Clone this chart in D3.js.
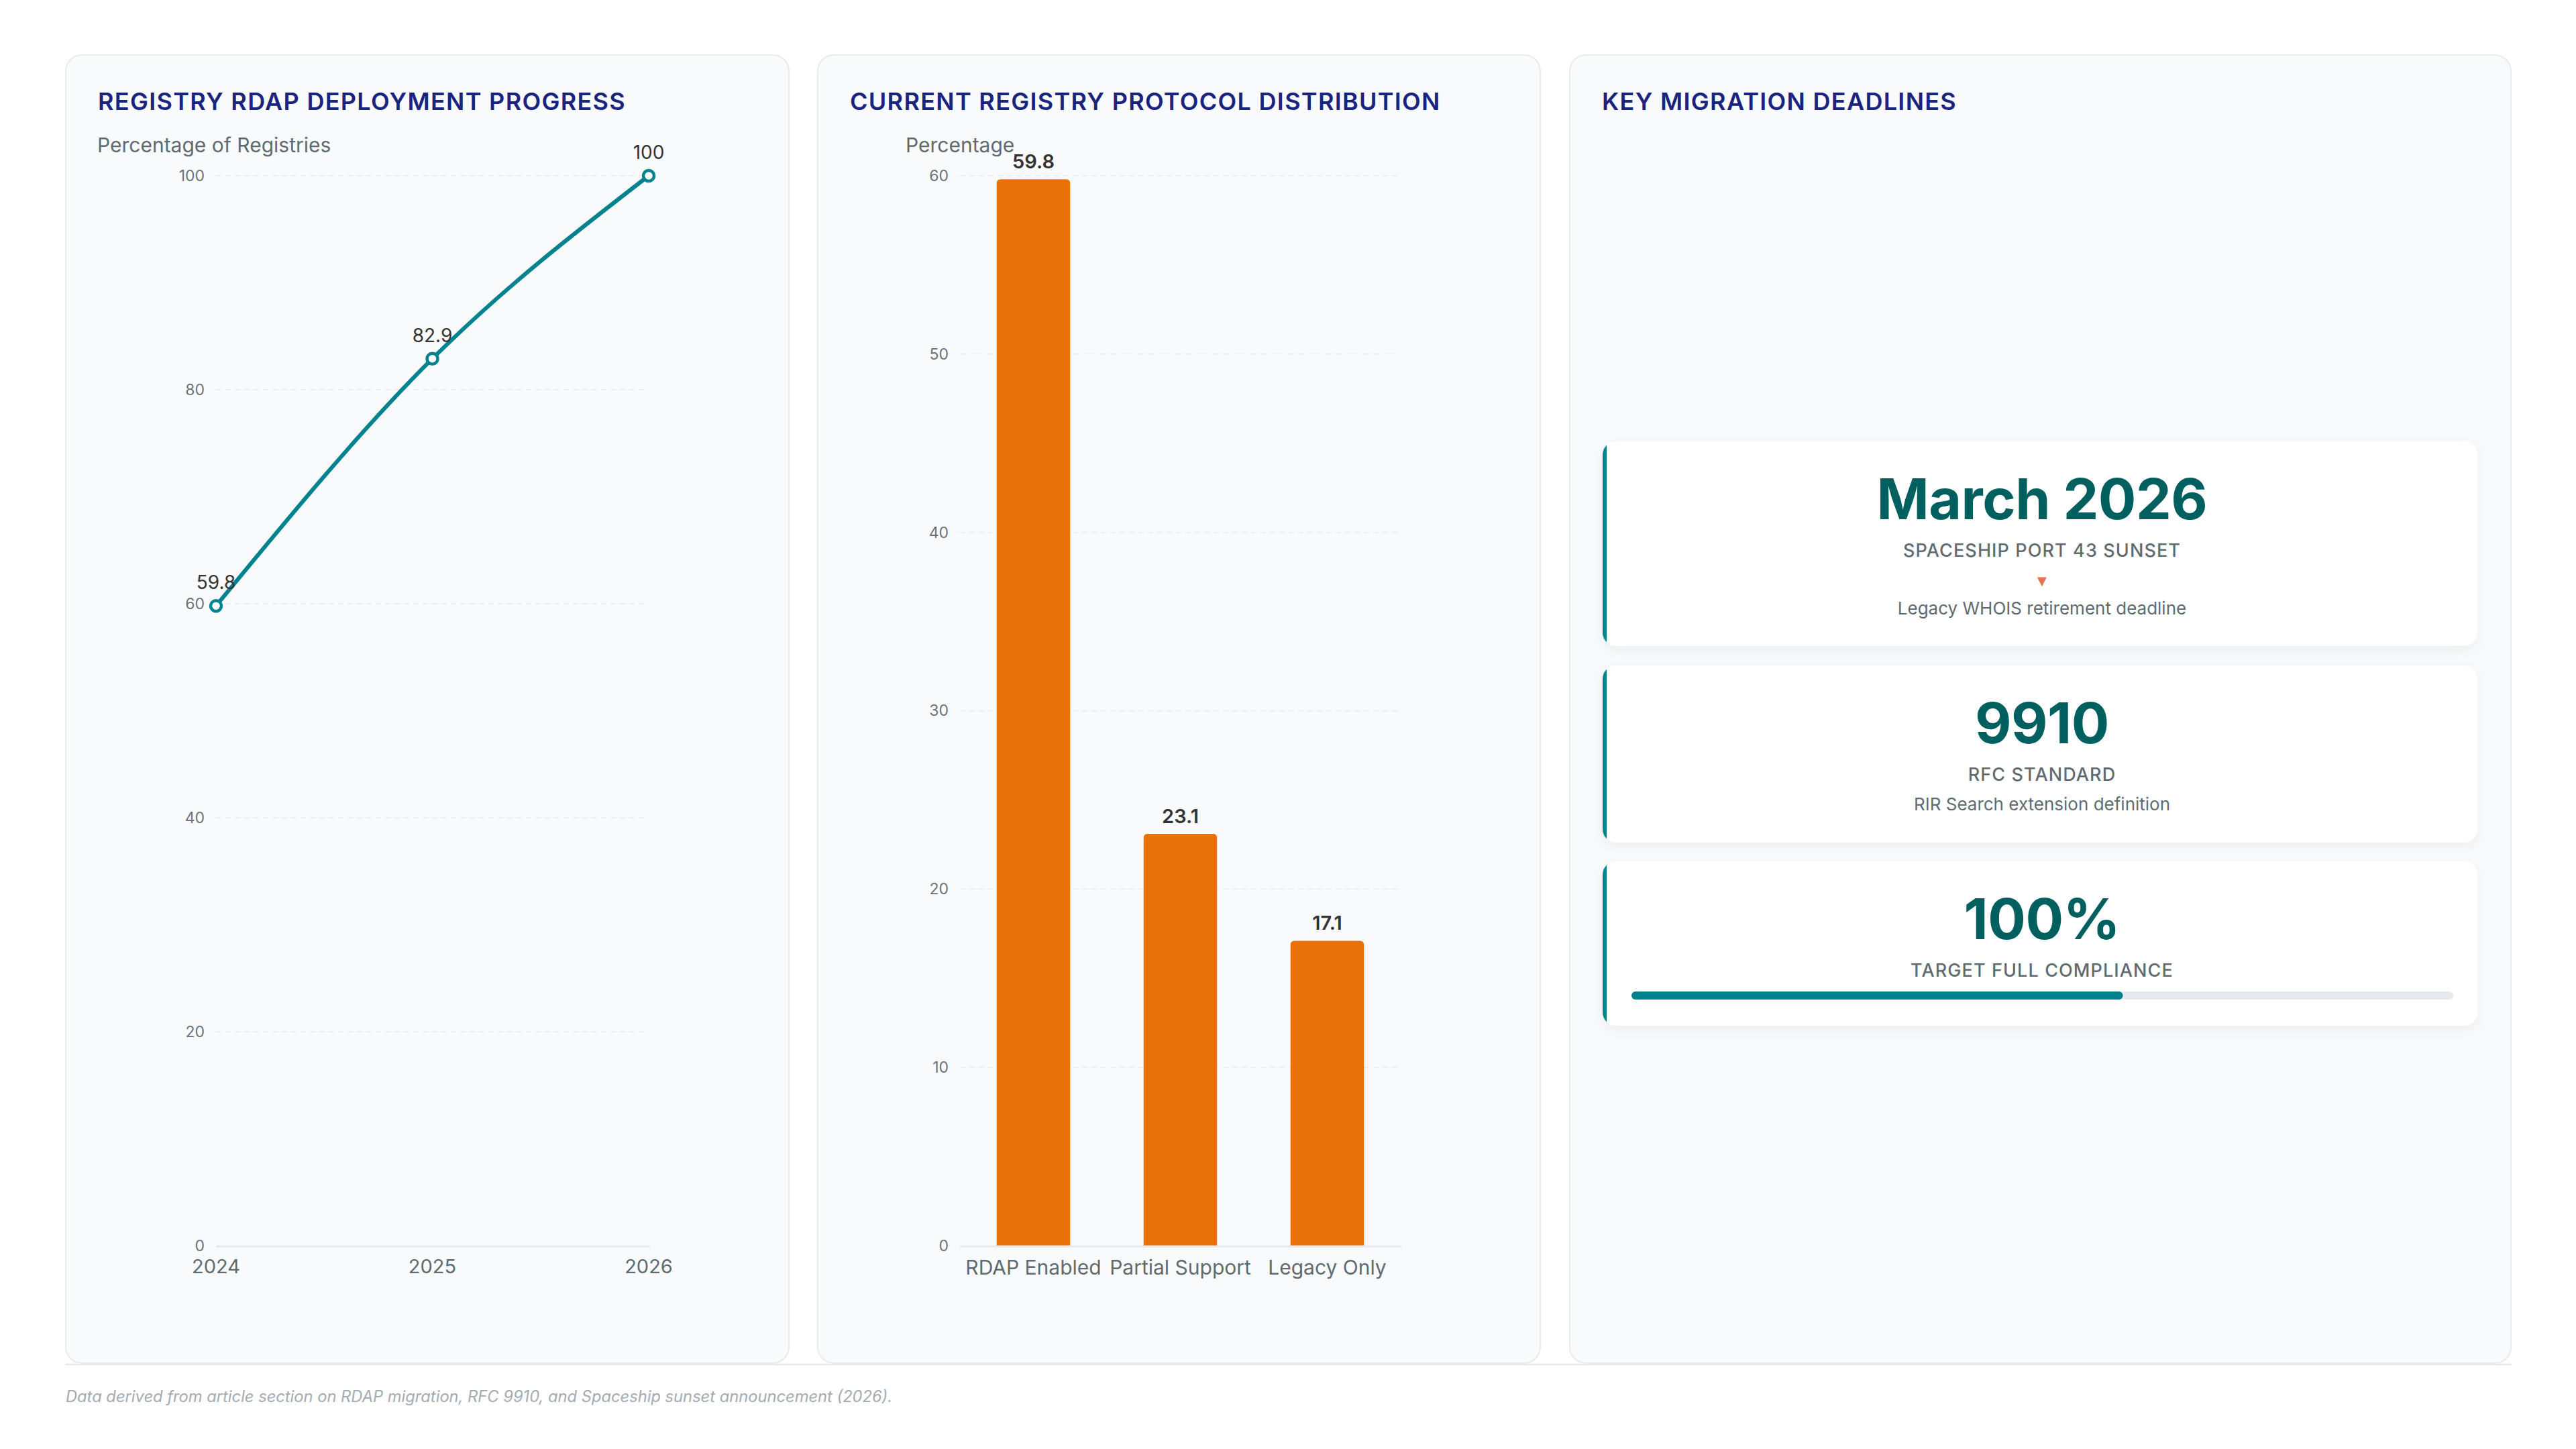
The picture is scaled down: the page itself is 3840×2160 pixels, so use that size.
<!DOCTYPE html>
<html>
<head>
<meta charset="utf-8">
<script src="https://cdn.jsdelivr.net/npm/d3@7"></script>
<style>
  html, body { margin: 0; padding: 0; background: #ffffff; }
  svg { display: block; font-family: Inter, "Noto Sans", sans-serif; }
</style>
</head>
<body>
<svg id="root" width="3840" height="2160"></svg>
<script>
// ---------------- DATA ----------------
const years = ["2024", "2025", "2026"];
const deploymentPct = [59.8, 82.9, 100];
const lineTicks = [0, 20, 40, 60, 80, 100];

const protocolCategories = ["RDAP Enabled", "Partial Support", "Legacy Only"];
const protocolPct = [59.8, 23.1, 17.1];
const barTicks = [0, 10, 20, 30, 40, 50, 60];

const panelTitles = ["REGISTRY RDAP DEPLOYMENT PROGRESS", "CURRENT REGISTRY PROTOCOL DISTRIBUTION", "KEY MIGRATION DEADLINES"];
const lineAxisTitle = "Percentage of Registries";
const barAxisTitle = "Percentage";

const cardValues = ["March 2026", "9910", "100%"];
const cardLabels = ["SPACESHIP PORT 43 SUNSET", "RFC STANDARD", "TARGET FULL COMPLIANCE"];
const cardNotes = ["Legacy WHOIS retirement deadline", "RIR Search extension definition", ""];
const complianceProgress = 59.8;

const footnote = "Data derived from article section on RDAP migration, RFC 9910, and Spaceship sunset announcement (2026).";

// ---------------- LAYOUT ----------------
const svg = d3.select("#root");
const C = {
  navy: "#1a237e", teal: "#00838f", darkTeal: "#00605f", orange: "#e8710a",
  gray: "#5f6b70", tick: "#6b7378", label: "#333333", grid: "#eceef1", axis: "#e6e8eb",
  panelBg: "#f8fafc", panelBorder: "#e8ebee", coral: "#e4704f", foot: "#a4abb2"
};

const defs = svg.append("defs");
const f = defs.append("filter").attr("id", "shadow").attr("x", "-10%").attr("y", "-20%").attr("width", "120%").attr("height", "150%");
f.append("feDropShadow").attr("dx", 0).attr("dy", 6).attr("stdDeviation", 9).attr("flood-color", "#000").attr("flood-opacity", 0.05);

const panels = [
  { x0: 97, x1: 1177 },
  { x0: 1218, x1: 2297 },
  { x0: 2339, x1: 3744 }
];
const panelTop = 81, panelBottom = 2033;

panels.forEach((p, i) => {
  svg.append("rect")
    .attr("x", p.x0 + 1).attr("y", panelTop + 1)
    .attr("width", p.x1 - p.x0 - 2).attr("height", panelBottom - panelTop - 2)
    .attr("rx", 24).attr("fill", C.panelBg)
    .attr("stroke", C.panelBorder).attr("stroke-width", 2);
  svg.append("text")
    .attr("x", p.x0 + 49).attr("y", 164)
    .attr("fill", C.navy).attr("font-size", 36).attr("font-weight", 600)
    .attr("letter-spacing", 1.3)
    .text(panelTitles[i]);
});
svg.append("line").attr("x1", 97).attr("x2", 3744).attr("y1", 2034).attr("y2", 2034)
  .attr("stroke", C.axis).attr("stroke-width", 2.5);

// ---------------- LINE CHART ----------------
{
  const x = d3.scalePoint().domain(years).range([322, 967]);
  const y = d3.scaleLinear().domain([0, 100]).range([1857, 262]);
  const g = svg.append("g");

  g.append("text").attr("x", 145).attr("y", 227).attr("font-size", 30).attr("fill", C.gray).text(lineAxisTitle);

  g.selectAll(".grid").data(lineTicks.filter(t => t !== 0)).join("line")
    .attr("x1", x.range()[0]).attr("x2", x.range()[1])
    .attr("y1", d => y(d)).attr("y2", d => y(d))
    .attr("stroke", C.grid).attr("stroke-width", 2).attr("stroke-dasharray", "8,6");
  g.append("line").attr("x1", x.range()[0]).attr("x2", x.range()[1] + 2)
    .attr("y1", y(0) + 1).attr("y2", y(0) + 1).attr("stroke", C.axis).attr("stroke-width", 3);

  const ay = g.append("g").attr("transform", `translate(${x.range()[0]},0)`)
    .call(d3.axisLeft(y).tickValues(lineTicks).tickSize(0).tickPadding(17));
  ay.select(".domain").remove();
  ay.selectAll("text").attr("font-size", 23).attr("fill", C.tick).attr("font-family", "Inter");

  g.selectAll(".xl").data(years).join("text")
    .attr("x", d => x(d)).attr("y", 1898).attr("text-anchor", "middle")
    .attr("font-size", 29).attr("fill", C.gray).text(d => d);

  const pts = years.map((yr, i) => ({ yr, v: deploymentPct[i] }));
  const line = d3.line().x(d => x(d.yr)).y(d => y(d.v)).curve(d3.curveMonotoneX);
  g.append("path").datum(pts).attr("d", line).attr("fill", "none")
    .attr("stroke", C.teal).attr("stroke-width", 6).attr("stroke-linejoin", "round");
  g.selectAll(".pt").data(pts).join("circle")
    .attr("cx", d => x(d.yr)).attr("cy", d => y(d.v)).attr("r", 8)
    .attr("fill", "#fff").attr("stroke", C.teal).attr("stroke-width", 4.5);
  g.selectAll(".lbl").data(pts).join("text")
    .attr("x", d => x(d.yr)).attr("y", d => y(d.v) - 25).attr("text-anchor", "middle")
    .attr("font-size", 28).attr("fill", C.label).text(d => d.v);
}

// ---------------- BAR CHART ----------------
{
  const x = d3.scaleBand().domain(protocolCategories).range([1431, 2088]).paddingInner(0.5).paddingOuter(0.25);
  const y = d3.scaleLinear().domain([0, 60]).range([1857, 262]);
  const g = svg.append("g");

  g.append("text").attr("x", 1350).attr("y", 227).attr("font-size", 30).attr("fill", C.gray).text(barAxisTitle);

  g.selectAll(".grid").data(barTicks.filter(t => t !== 0)).join("line")
    .attr("x1", x.range()[0]).attr("x2", x.range()[1])
    .attr("y1", d => y(d)).attr("y2", d => y(d))
    .attr("stroke", C.grid).attr("stroke-width", 2).attr("stroke-dasharray", "8,6");

  const ay = g.append("g").attr("transform", `translate(${x.range()[0]},0)`)
    .call(d3.axisLeft(y).tickValues(barTicks).tickSize(0).tickPadding(17));
  ay.select(".domain").remove();
  ay.selectAll("text").attr("font-size", 23).attr("fill", C.tick).attr("font-family", "Inter");

  const data = protocolCategories.map((c, i) => ({ c, v: protocolPct[i] }));
  const r = 6;
  g.selectAll(".bar").data(data).join("path")
    .attr("d", d => {
      const x0 = x(d.c), x1 = x0 + x.bandwidth(), yt = y(d.v), yb = y(0);
      return `M${x0},${yb}V${yt + r}Q${x0},${yt} ${x0 + r},${yt}H${x1 - r}Q${x1},${yt} ${x1},${yt + r}V${yb}Z`;
    })
    .attr("fill", C.orange);

  g.append("line").attr("x1", x.range()[0]).attr("x2", x.range()[1] + 1)
    .attr("y1", y(0) + 1).attr("y2", y(0) + 1).attr("stroke", C.axis).attr("stroke-width", 3);

  g.selectAll(".lbl").data(data).join("text")
    .attr("x", d => x(d.c) + x.bandwidth() / 2).attr("y", d => y(d.v) - 16)
    .attr("text-anchor", "middle").attr("font-size", 29).attr("font-weight", 600)
    .attr("fill", C.label).text(d => d.v);

  g.selectAll(".xl").data(protocolCategories).join("text")
    .attr("x", d => x(d) + x.bandwidth() / 2).attr("y", 1900).attr("text-anchor", "middle")
    .attr("font-size", 30).attr("fill", C.gray).text(d => d);
}

// ---------------- KPI CARDS ----------------
{
  const cards = [
    { y0: 658, y1: 963, val: 774, lab: 830, tri: 872, note: 916 },
    { y0: 992, y1: 1256, val: 1108, lab: 1164, note: 1208 },
    { y0: 1284, y1: 1529, val: 1400, lab: 1456, bar: 1478 }
  ];
  const cx0 = 2389, cx1 = 3693, cr = 20, bw = 6;
  const cxm = 3044;
  cards.forEach((c, i) => {
    const g = svg.append("g");
    const cid = "clip" + i;
    defs.append("clipPath").attr("id", cid).append("rect")
      .attr("x", cx0).attr("y", c.y0).attr("width", bw).attr("height", c.y1 - c.y0);
    g.append("rect").attr("x", cx0).attr("y", c.y0).attr("width", cx1 - cx0).attr("height", c.y1 - c.y0)
      .attr("rx", cr).attr("fill", "#fff").attr("filter", "url(#shadow)");
    g.append("rect").attr("x", cx0).attr("y", c.y0).attr("width", cx1 - cx0).attr("height", c.y1 - c.y0)
      .attr("rx", cr).attr("fill", C.teal).attr("clip-path", `url(#${cid})`);

    g.append("text").attr("x", cxm).attr("y", c.val).attr("text-anchor", "middle")
      .attr("font-size", 84).attr("font-weight", 700).attr("fill", C.darkTeal)
      .attr("letter-spacing", -0.5).text(cardValues[i]);
    g.append("text").attr("x", cxm).attr("y", c.lab).attr("text-anchor", "middle")
      .attr("font-size", 27).attr("font-weight", 500).attr("fill", C.gray)
      .attr("letter-spacing", 1.1).text(cardLabels[i]);
    if (c.tri) {
      g.append("text").attr("x", cxm).attr("y", c.tri).attr("text-anchor", "middle")
        .attr("font-size", 18).attr("fill", C.coral).attr("font-family", "DejaVu Sans").text("▼");
    }
    if (cardNotes[i]) {
      g.append("text").attr("x", cxm).attr("y", c.note).attr("text-anchor", "middle")
        .attr("font-size", 26).attr("fill", C.gray).text(cardNotes[i]);
    }
    if (c.bar) {
      const px = d3.scaleLinear().domain([0, 100]).range([2432, 3657]);
      g.append("rect").attr("x", px(0)).attr("y", c.bar).attr("width", px(100) - px(0)).attr("height", 12)
        .attr("rx", 6).attr("fill", "#e6eaee");
      g.append("rect").attr("x", px(0)).attr("y", c.bar).attr("width", px(complianceProgress) - px(0)).attr("height", 12)
        .attr("rx", 6).attr("fill", C.teal);
    }
  });
}

// ---------------- FOOTNOTE ----------------
svg.append("text").attr("x", 98).attr("y", 2090).attr("font-size", 23.7).attr("font-style", "italic")
  .attr("fill", C.foot).text(footnote);
</script>
</body>
</html>
